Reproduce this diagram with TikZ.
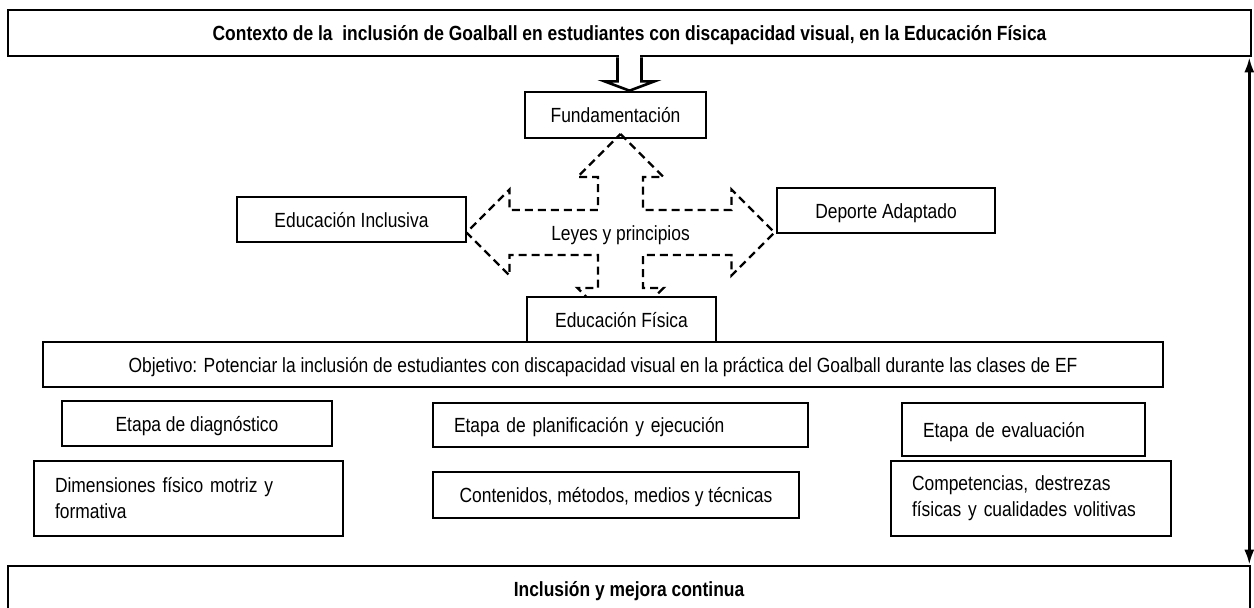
\documentclass[tikz,border=0pt]{standalone}
\usepackage{fontspec}
\setmainfont{Liberation Sans}[FakeStretch=0.85]
\usepackage{tikz}
\usetikzlibrary{positioning,arrows.meta,calc}

\tikzset{
  caja/.style={draw, line width=2.6pt, fill=white, rectangle, inner sep=0pt, text height=15pt, text depth=0pt},
  cajaizq/.style={caja, inner xsep=21pt, align=left},
  cajados/.style={draw, line width=2.6pt, fill=white, rectangle, inner sep=0pt, inner xsep=21pt, align=left},
  hueca/.style={line width=2.6pt, line join=miter},
  rayada/.style={line width=2.3pt, dash pattern=on 8pt off 5pt},
  flecha/.style={line width=2.6pt, {Latex[length=15pt,width=10pt]}-{Latex[length=15pt,width=10pt]}}
}

\begin{document}
\begin{tikzpicture}[x=1pt, y=-1pt, every node/.style={font=\fontsize{20.5}{26}\selectfont}]
  \useasboundingbox (0,0) rectangle (1254,608);

  % Context and result
  \node[caja, minimum width=1243, minimum height=46, font=\fontsize{20.5}{26}\selectfont\bfseries] (titulo) at (629.5,33)
    {Contexto de la\ \ inclusión de Goalball en estudiantes con discapacidad visual, en la Educación Física};
  \node[caja, minimum width=1242, minimum height=46, font=\fontsize{20.5}{26}\selectfont\bfseries] (abajo) at (629,589)
    {Inclusión y mejora continua};

  % Hollow arrow into the foundation
  \node[caja, minimum width=181, minimum height=46] (fund) at (615.5,115) {Fundamentación};
  \coordinate (pTop) at (titulo.south);
  \coordinate (pTip) at (titulo.south |- fund.north);
  \fill[white] ($(pTop)+(-10.7,-3)$) rectangle ($(pTop)+(10.7,4)$);
  \draw[hueca] ($(pTop)+(-12,0)$) -- ($(pTop)+(-12,24)$) -- ($(pTop)+(-25,24)$) -- (pTip)
    -- ($(pTop)+(25,24)$) -- ($(pTop)+(12,24)$) -- ($(pTop)+(12,0)$);

  % Laws and principles (dashed cross arrow)
  \begin{scope}[shift={(620.5,232.5)}]
    \draw[rayada] (0,-98.5) -- (43,-55.5) -- (22.5,-55.5) -- (22.5,-22.5) -- (111,-22.5) -- (111,-43)
      -- (154,0) -- (111,43) -- (111,22.5) -- (22.5,22.5) -- (22.5,55.5) -- (43,55.5)
      -- (0,98.5) -- (-43,55.5) -- (-22.5,55.5) -- (-22.5,22.5) -- (-111,22.5) -- (-111,43)
      -- (-154,0) -- (-111,-43) -- (-111,-22.5) -- (-22.5,-22.5) -- (-22.5,-55.5) -- (-43,-55.5) -- cycle;
    \node[text height=15pt, text depth=0pt] (leyes) at (0,0) {Leyes y principios};
  \end{scope}
  \node[caja, minimum width=229, minimum height=45] (inclusiva) at (351.5,219.5) {Educación Inclusiva};
  \node[caja, minimum width=218, minimum height=45] (deporte) at (886,210.5) {Deporte Adaptado};
  \node[caja, minimum width=189, minimum height=45] (fisica) at (621.5,319.5) {Educación Física};

  % Objective
  \node[caja, minimum width=1120, minimum height=45] (objetivo) at (603,364.5)
    {Objetivo: Potenciar la inclusión de estudiantes con discapacidad visual en la práctica del Goalball durante las clases de EF};

  % Stages
  \node[caja, minimum width=270, minimum height=45] (diag) at (197,423.5) {Etapa de diagnóstico};
  \node[cajaizq, text width=333, minimum height=44] (plan) at (620.5,425) {Etapa de planificación y ejecución};
  \node[cajaizq, text width=201, minimum height=53] (eval) at (1023.5,429.5) {Etapa de evaluación};

  % Contents of each stage
  \node[cajados, text width=267, minimum height=75] (dim) at (188.5,498.5) {Dimensiones físico motriz y\\formativa};
  \node[caja, minimum width=366, minimum height=46] (cont) at (616,495) {Contenidos, métodos, medios y técnicas};
  \node[cajados, text width=238, minimum height=75] (comp) at (1031,498.5) {Competencias, destrezas\\físicas y cualidades volitivas};

  % Continuous loop
  \draw[flecha] ([xshift=-3pt]titulo.south east) -- ([xshift=-3pt]titulo.south east |- abajo.north);
\end{tikzpicture}
\end{document}
